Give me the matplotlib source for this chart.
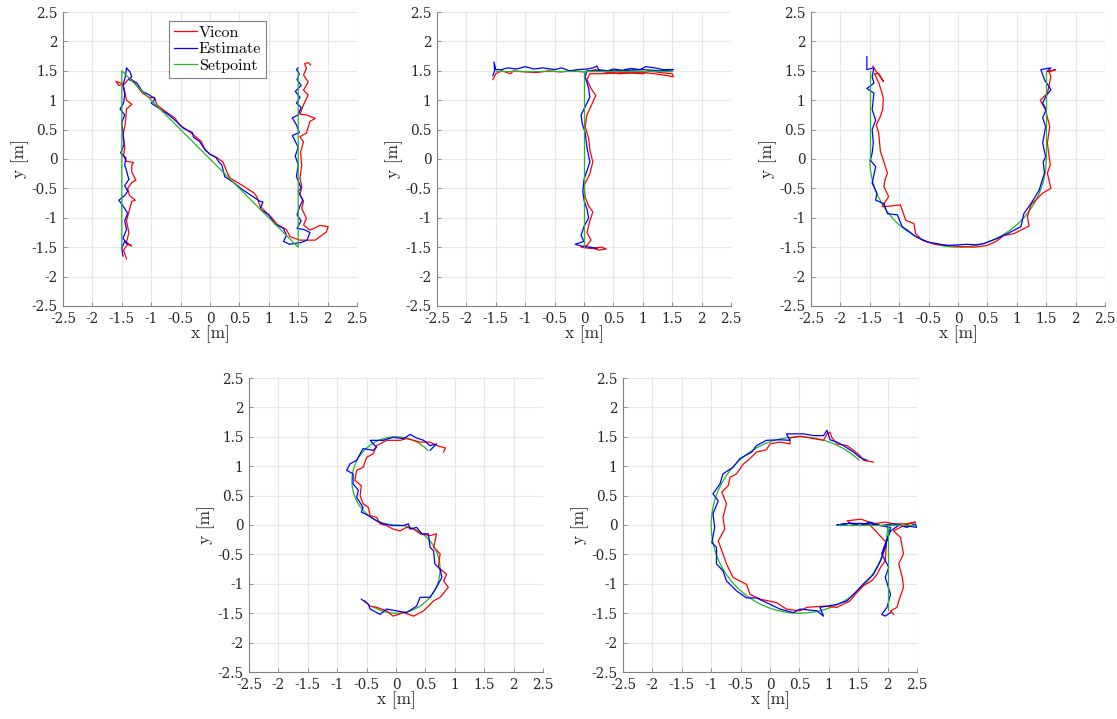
import matplotlib
matplotlib.use("Agg")
import matplotlib.pyplot as plt
from matplotlib.patches import Arc

plt.rcParams['font.family'] = ['cmr10', 'DejaVu Serif']
plt.rcParams['mathtext.fontset'] = 'cm'
plt.rcParams['axes.unicode_minus'] = False

TICKS = [-2.5, -2, -1.5, -1, -0.5, 0, 0.5, 1, 1.5, 2, 2.5]
TICK_LABELS = ['-2.5', '-2', '-1.5', '-1', '-0.5', '0', '0.5', '1', '1.5', '2', '2.5']

# ---- N ----
n_set_x = [-1.5, -1.5, 1.5, 1.5]
n_set_y = [-1.5, 1.5, -1.5, 1.5]
n_vicon_x = [-1.42, -1.47, -1.40, -1.33, -1.42, -1.38, -1.42, -1.38, -1.33, -1.27, -1.37, -1.40,
             -1.33, -1.26, -1.33, -1.33, -1.30, -1.42, -1.47, -1.45, -1.48, -1.44, -1.42, -1.33,
             -1.42, -1.45, -1.48, -1.60, -1.55, -1.45, -1.37, -1.30, -1.25, -1.15, -1.02, -0.95,
             -0.90, -0.75, -0.60, -0.52, -0.40, -0.27, -0.15, -0.08, 0.00, 0.12, 0.22, 0.30,
             0.35, 0.55, 0.75, 0.80, 0.85, 0.95, 1.05, 1.15, 1.30, 1.36, 1.53, 1.79,
             1.98, 2.01, 1.87, 1.70, 1.59, 1.64, 1.56, 1.59, 1.53, 1.56, 1.53, 1.56,
             1.54, 1.59, 1.53, 1.64, 1.70, 1.79, 1.64, 1.53, 1.59, 1.67, 1.59, 1.67,
             1.59, 1.64, 1.61, 1.67, 1.71]
n_vicon_y = [-1.70, -1.55, -1.45, -1.48, -1.42, -1.25, -1.05, -0.90, -0.72, -0.70, -0.62, -0.50,
             -0.40, -0.36, -0.22, -0.10, -0.06, -0.04, 0.05, 0.20, 0.40, 0.60, 0.85, 0.93,
             1.00, 1.15, 1.28, 1.32, 1.25, 1.28, 1.38, 1.33, 1.25, 1.12, 1.04, 1.05,
             0.92, 0.80, 0.70, 0.58, 0.50, 0.40, 0.30, 0.15, 0.08, 0.02, -0.05, -0.25,
             -0.33, -0.45, -0.58, -0.65, -0.80, -0.90, -1.00, -1.12, -1.20, -1.32, -1.38, -1.38,
             -1.24, -1.15, -1.13, -1.21, -1.12, -1.01, -0.84, -0.72, -0.61, -0.47, -0.33, -0.10,
             0.12, 0.29, 0.38, 0.44, 0.64, 0.69, 0.75, 0.76, 0.92, 1.09, 1.17, 1.31,
             1.43, 1.54, 1.62, 1.64, 1.60]
n_est_x = [-1.48, -1.50, -1.45, -1.40, -1.48, -1.42, -1.45, -1.40, -1.48, -1.55, -1.45, -1.40,
           -1.45, -1.38, -1.42, -1.45, -1.43, -1.52, -1.46, -1.48, -1.50, -1.45, -1.53, -1.47,
           -1.45, -1.48, -1.44, -1.42, -1.36, -1.33, -1.38, -1.25, -1.15, -1.05, -0.93, -1.00,
           -0.85, -0.70, -0.55, -0.45, -0.30, -0.28, -0.18, -0.10, 0.00, 0.10, 0.15, 0.20,
           0.25, 0.40, 0.55, 0.70, 0.85, 0.90, 0.85, 1.00, 1.10, 1.25, 1.30, 1.25,
           1.35, 1.55, 1.65, 1.70, 1.60, 1.48, 1.55, 1.48, 1.53, 1.58, 1.50, 1.55,
           1.47, 1.50, 1.45, 1.50, 1.45, 1.40, 1.52, 1.47, 1.40, 1.50, 1.55, 1.47,
           1.53, 1.45, 1.55, 1.48, 1.52, 1.47, 1.50]
n_est_y = [-1.65, -1.52, -1.40, -1.45, -1.35, -1.20, -1.05, -0.92, -0.80, -0.70, -0.62, -0.55,
           -0.45, -0.35, -0.20, -0.10, 0.02, 0.10, 0.25, 0.45, 0.62, 0.75, 0.85, 0.95,
           1.10, 1.25, 1.40, 1.55, 1.48, 1.40, 1.35, 1.30, 1.15, 1.10, 1.02, 0.95,
           0.85, 0.75, 0.62, 0.52, 0.45, 0.37, 0.30, 0.18, 0.08, 0.03, -0.05, -0.10,
           -0.30, -0.40, -0.52, -0.62, -0.72, -0.73, -0.85, -0.95, -1.10, -1.18, -1.30, -1.40,
           -1.45, -1.42, -1.38, -1.25, -1.20, -1.18, -1.05, -0.95, -0.80, -0.70, -0.55, -0.50,
           -0.30, -0.10, 0.05, 0.20, 0.30, 0.40, 0.45, 0.58, 0.70, 0.75, 0.88, 0.95,
           1.05, 1.15, 1.25, 1.35, 1.45, 1.52, 1.55]

# ---- T ----
t_set_x = [-1.5, 1.5, 0, 0]
t_set_y = [1.5, 1.5, 1.5, -1.5]
t_vicon_x = [-1.55, -1.50, -1.40, -1.25, -1.20, -1.00, -0.80, -0.60, -0.40, -0.20, 0.00, 0.20,
             0.40, 0.60, 0.80, 1.00, 1.10, 1.30, 1.50, 1.52, 1.40, 1.20, 1.00, 0.80,
             0.50, 0.30, 0.10, 0.05, 0.12, 0.20, 0.12, 0.05, 0.02, 0.08, 0.10, 0.15,
             0.10, 0.00, 0.02, 0.08, 0.15, 0.10, 0.05, 0.12, 0.05, -0.05, 0.10, 0.30,
             0.38, 0.25, 0.10]
t_vicon_y = [1.35, 1.45, 1.50, 1.45, 1.50, 1.48, 1.47, 1.50, 1.48, 1.50, 1.48, 1.52,
             1.47, 1.45, 1.46, 1.45, 1.50, 1.47, 1.45, 1.40, 1.42, 1.45, 1.47, 1.48,
             1.46, 1.45, 1.45, 1.35, 1.20, 1.08, 0.90, 0.75, 0.55, 0.35, 0.15, -0.05,
             -0.25, -0.45, -0.65, -0.80, -0.90, -1.05, -1.25, -1.38, -1.47, -1.50, -1.52, -1.50,
             -1.53, -1.55, -1.50]
t_est_x = [-1.55, -1.52, -1.53, -1.50, -1.40, -1.30, -1.15, -1.00, -0.85, -0.70, -0.50, -0.38,
           -0.25, -0.10, 0.05, 0.15, 0.22, 0.25, 0.40, 0.50, 0.65, 0.80, 0.95, 1.05,
           1.20, 1.35, 1.52, 1.30, 1.00, 0.60, 0.30, 0.05, 0.02, 0.08, 0.10, 0.05,
           -0.05, -0.03, 0.02, 0.05, 0.10, 0.05, 0.00, -0.02, 0.00, 0.05, 0.08, 0.00,
           -0.05, 0.00, -0.15, -0.05, 0.10, 0.22]
t_est_y = [1.42, 1.50, 1.65, 1.52, 1.52, 1.55, 1.53, 1.57, 1.53, 1.55, 1.52, 1.55,
           1.50, 1.52, 1.53, 1.55, 1.58, 1.52, 1.50, 1.53, 1.51, 1.54, 1.52, 1.57,
           1.55, 1.52, 1.52, 1.50, 1.52, 1.50, 1.50, 1.50, 1.40, 1.20, 1.05, 0.95,
           0.75, 0.60, 0.45, 0.20, -0.05, -0.20, -0.35, -0.55, -0.70, -0.85, -1.00, -1.15,
           -1.30, -1.40, -1.45, -1.48, -1.50, -1.52]

# ---- U ----
u_set_x = [[-1.5, -1.5], [1.5, 1.5]]
u_set_y = [[1.5, 0.0], [0.0, 1.5]]
u_set_arcs = [((0.0, 0.0), 1.5, 180, 360)]
u_vicon_x = [-1.45, -1.40, -1.33, -1.27, -1.35, -1.42, -1.35, -1.30, -1.27, -1.28, -1.32, -1.39,
             -1.35, -1.32, -1.26, -1.20, -1.24, -1.26, -1.18, -1.29, -1.15, -0.98, -0.89, -0.75,
             -0.72, -0.61, -0.40, -0.18, 0.05, 0.27, 0.50, 0.65, 0.78, 0.95, 1.21, 1.18,
             1.24, 1.44, 1.58, 1.52, 1.57, 1.55, 1.52, 1.56, 1.49, 1.40, 1.52, 1.58,
             1.55, 1.66, 1.52]
u_vicon_y = [1.58, 1.50, 1.42, 1.32, 1.45, 1.45, 1.30, 1.15, 1.03, 0.85, 0.72, 0.58,
             0.45, 0.13, -0.05, -0.24, -0.35, -0.47, -0.64, -0.81, -0.80, -0.78, -1.04, -1.10,
             -1.27, -1.38, -1.45, -1.47, -1.49, -1.50, -1.47, -1.40, -1.30, -1.27, -1.14, -0.98,
             -0.78, -0.58, -0.50, -0.24, -0.10, 0.04, 0.27, 0.55, 0.83, 1.00, 1.12, 1.40,
             1.48, 1.52, 1.49]
u_est_x = [-1.55, -1.55, -1.43, -1.46, -1.43, -1.55, -1.43, -1.46, -1.40, -1.46, -1.44, -1.46,
           -1.49, -1.40, -1.46, -1.38, -1.40, -1.26, -1.20, -1.03, -0.95, -0.86, -0.72, -0.52,
           -0.30, -0.18, 0.00, 0.16, 0.30, 0.44, 0.67, 0.84, 1.07, 1.12, 1.24, 1.38,
           1.47, 1.45, 1.49, 1.44, 1.49, 1.44, 1.50, 1.44, 1.49, 1.58, 1.47, 1.41,
           1.58, 1.52]
u_est_y = [1.74, 1.52, 1.55, 1.40, 1.29, 1.20, 1.12, 0.84, 0.66, 0.50, 0.27, 0.10,
           -0.02, -0.13, -0.41, -0.58, -0.70, -0.76, -0.93, -0.95, -1.15, -1.21, -1.32, -1.41,
           -1.45, -1.47, -1.46, -1.45, -1.46, -1.44, -1.35, -1.27, -1.15, -0.93, -0.76, -0.53,
           -0.24, -0.05, 0.04, 0.27, 0.55, 0.70, 0.84, 0.95, 1.06, 1.18, 1.35, 1.52,
           1.55, 1.49]

# ---- S ----
s_set_x = []
s_set_y = []
s_set_arcs = [((0.0, 0.75), 0.75, 43, 270), ((0.0, -0.75), 0.75, -122, 90)]
s_vicon_x = [0.81, 0.84, 0.70, 0.58, 0.41, 0.30, 0.18, 0.07, -0.16, -0.33, -0.39, -0.50,
             -0.56, -0.67, -0.70, -0.59, -0.61, -0.56, -0.47, -0.44, -0.33, -0.27, -0.16, -0.05,
             0.07, 0.18, 0.30, 0.41, 0.58, 0.69, 0.64, 0.75, 0.72, 0.86, 0.81, 0.89,
             0.75, 0.64, 0.47, 0.30, 0.13, -0.05, -0.16, -0.33, -0.44, -0.53]
s_vicon_y = [1.24, 1.31, 1.35, 1.41, 1.41, 1.44, 1.47, 1.44, 1.44, 1.35, 1.21, 1.15,
             0.98, 0.93, 0.76, 0.67, 0.50, 0.36, 0.30, 0.16, 0.13, 0.02, -0.01, -0.07,
             -0.10, -0.04, -0.07, -0.15, -0.18, -0.15, -0.38, -0.49, -0.72, -0.84, -0.95, -1.06,
             -1.23, -1.29, -1.46, -1.55, -1.49, -1.55, -1.46, -1.40, -1.38, -1.29]
s_est_x = [0.58, 0.69, 0.58, 0.47, 0.35, 0.24, 0.13, -0.05, -0.22, -0.44, -0.33, -0.39,
           -0.56, -0.67, -0.78, -0.84, -0.73, -0.73, -0.64, -0.67, -0.56, -0.59, -0.47, -0.33,
           -0.22, -0.05, 0.13, 0.21, 0.24, 0.35, 0.44, 0.55, 0.58, 0.64, 0.66, 0.75,
           0.78, 0.69, 0.58, 0.41, 0.35, 0.18, 0.01, -0.16, -0.27, -0.44, -0.47, -0.59]
s_est_y = [1.27, 1.38, 1.35, 1.44, 1.48, 1.54, 1.47, 1.49, 1.44, 1.44, 1.32, 1.27,
           1.30, 1.10, 1.04, 0.93, 0.87, 0.70, 0.59, 0.47, 0.30, 0.22, 0.16, 0.07,
           0.02, -0.01, -0.01, 0.02, -0.07, -0.04, -0.15, -0.15, -0.38, -0.44, -0.66, -0.75,
           -0.89, -1.06, -1.23, -1.23, -1.38, -1.49, -1.46, -1.43, -1.52, -1.43, -1.35, -1.26]

# ---- G ----
g_set_x = [[1.15, 2.5], [2.0, 2.0]]
g_set_y = [[0.0, 0.0], [0.0, -1.45]]
g_set_arcs = [((0.5, 0.0), 1.5, 47, 360)]
g_vicon_x = [1.76, 1.59, 1.53, 1.42, 1.31, 1.14, 1.05, 1.02, 0.97, 0.91, 0.74, 0.51,
             0.34, 0.34, 0.17, 0.00, -0.06, -0.23, -0.34, -0.45, -0.57, -0.68, -0.71, -0.82,
             -0.74, -0.80, -0.77, -0.88, -0.80, -0.74, -0.63, -0.40, -0.34, -0.17, 0.11, 0.28,
             0.51, 0.63, 0.91, 1.14, 1.36, 1.45, 1.59, 1.73, 1.82, 1.88, 1.96, 1.98,
             1.70, 1.53, 1.42, 1.31, 1.55, 1.76, 1.96, 2.10, 2.33, 2.47, 2.30, 2.10,
             2.22, 2.27, 2.19, 2.25, 2.27, 2.19, 2.16, 2.05, 2.10]
g_vicon_y = [1.07, 1.10, 1.18, 1.27, 1.35, 1.38, 1.49, 1.58, 1.55, 1.44, 1.47, 1.51,
             1.48, 1.38, 1.41, 1.38, 1.28, 1.24, 1.13, 1.04, 0.87, 0.81, 0.67, 0.56,
             0.36, 0.13, -0.07, -0.27, -0.49, -0.66, -0.89, -1.01, -1.18, -1.26, -1.32, -1.43,
             -1.46, -1.40, -1.38, -1.40, -1.29, -1.18, -1.03, -0.95, -0.84, -0.72, -0.61, -0.30,
             0.00, 0.03, -0.01, 0.07, 0.10, 0.02, 0.05, 0.02, 0.02, 0.05, 0.00, -0.10,
             -0.21, -0.49, -0.66, -0.89, -1.06, -1.29, -1.40, -1.46, -1.52]
g_est_x = [1.65, 1.53, 1.42, 1.25, 1.14, 1.02, 0.97, 0.91, 0.74, 0.57, 0.28, 0.34,
           0.17, -0.06, -0.23, -0.31, -0.51, -0.63, -0.80, -0.85, -0.97, -0.88, -0.97, -0.94,
           -0.99, -0.91, -0.91, -0.80, -0.74, -0.57, -0.40, -0.23, -0.06, 0.17, 0.40, 0.51,
           0.80, 0.91, 0.85, 1.14, 1.31, 1.42, 1.59, 1.76, 1.88, 1.96, 2.02, 2.05,
           1.70, 1.36, 1.14, 1.36, 1.53, 1.70, 1.88, 2.10, 2.33, 2.47, 2.50, 2.20,
           2.05, 1.96, 1.90, 2.02, 1.96, 2.05, 1.99, 1.90, 1.96, 2.05]
g_est_y = [1.10, 1.15, 1.24, 1.35, 1.41, 1.45, 1.61, 1.52, 1.52, 1.55, 1.55, 1.44,
           1.45, 1.44, 1.35, 1.24, 1.13, 0.98, 0.87, 0.70, 0.53, 0.41, 0.19, -0.04,
           -0.30, -0.38, -0.66, -0.78, -0.95, -1.12, -1.24, -1.24, -1.32, -1.43, -1.49, -1.43,
           -1.46, -1.55, -1.40, -1.35, -1.29, -1.18, -1.00, -0.84, -0.61, -0.38, -0.15, -0.04,
           0.02, 0.03, 0.00, 0.03, -0.01, 0.05, -0.01, 0.02, -0.04, 0.02, -0.04, 0.00,
           -0.10, -0.32, -0.49, -0.72, -0.89, -1.18, -1.40, -1.52, -1.55, -1.49]

VICON = (1.0, 0.0, 0.0)
ESTIMATE = (0.0, 0.0, 1.0)
SETPOINT = (0.13, 0.72, 0.13)
LW = 0.9

W, H = 1117, 719
fig = plt.figure(figsize=(W / 100, H / 100), dpi=100)


def make_axes(left_px, bottom_px, size_px=294):
    ax = fig.add_axes([left_px / W, (H - bottom_px) / H, size_px / W, size_px / H])
    ax.set_xlim(-2.5, 2.5)
    ax.set_ylim(-2.5, 2.5)
    ax.set_xticks(TICKS)
    ax.set_xticklabels(TICK_LABELS, family='DejaVu Serif')
    ax.set_yticks(TICKS)
    ax.set_yticklabels(TICK_LABELS, family='DejaVu Serif')
    ax.grid(True, color='#e6e6e6', linewidth=0.8)
    ax.set_axisbelow(True)
    for side in ('top', 'right'):
        ax.spines[side].set_visible(False)
    for side in ('left', 'bottom'):
        ax.spines[side].set_color('#808080')
        ax.spines[side].set_linewidth(0.8)
    ax.tick_params(direction='in', length=3, width=0.6, color='#808080',
                   labelsize=9.8, labelcolor='#262626', pad=4)
    ax.set_xlabel('x [m]', fontsize=12.5, color='#262626', labelpad=0)
    ax.set_ylabel('y [m]', fontsize=12.5, color='#262626', labelpad=2)
    return ax


def draw_letter(ax, vx, vy, ex, ey, sx, sy, arcs=()):
    ax.plot(vx, vy, color=VICON, lw=LW, label='Vicon')
    ax.plot(ex, ey, color=ESTIMATE, lw=LW, label='Estimate')
    if sx and isinstance(sx[0], list):
        first = True
        for xs, ys in zip(sx, sy):
            ax.plot(xs, ys, color=SETPOINT, lw=LW, label='Setpoint' if first else None)
            first = False
    elif sx:
        ax.plot(sx, sy, color=SETPOINT, lw=LW, label='Setpoint')
    for center, r, t1, t2 in arcs:
        ax.add_patch(Arc(center, 2 * r, 2 * r, theta1=t1, theta2=t2,
                         color=SETPOINT, lw=LW))


ax1 = make_axes(63, 306)
draw_letter(ax1, n_vicon_x, n_vicon_y, n_est_x, n_est_y, n_set_x, n_set_y)
leg = ax1.legend(loc='upper left', bbox_to_anchor=(0.361, 0.97), fontsize=11.5,
                 fancybox=False, framealpha=1, edgecolor='#808080', handlelength=1.45,
                 handletextpad=0.12, borderpad=0.3, labelspacing=0.15, borderaxespad=0)
leg.get_frame().set_linewidth(0.8)

ax2 = make_axes(437, 306)
draw_letter(ax2, t_vicon_x, t_vicon_y, t_est_x, t_est_y, t_set_x, t_set_y)

ax3 = make_axes(811, 306)
draw_letter(ax3, u_vicon_x, u_vicon_y, u_est_x, u_est_y, u_set_x, u_set_y, u_set_arcs)

ax4 = make_axes(249, 672)
draw_letter(ax4, s_vicon_x, s_vicon_y, s_est_x, s_est_y, s_set_x, s_set_y, s_set_arcs)

ax5 = make_axes(623, 672)
draw_letter(ax5, g_vicon_x, g_vicon_y, g_est_x, g_est_y, g_set_x, g_set_y, g_set_arcs)

fig.savefig('out.png', dpi=100, facecolor='white')
